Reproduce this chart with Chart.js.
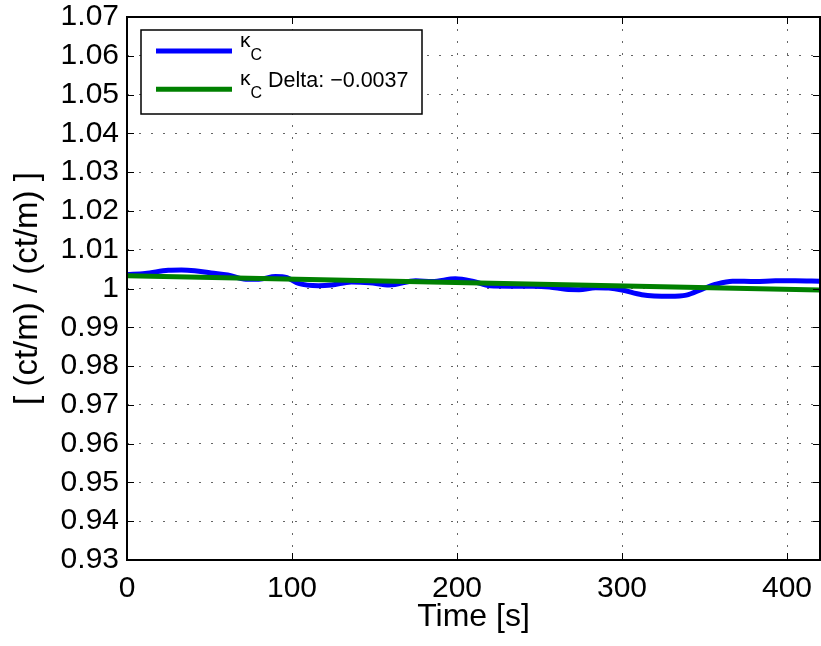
<!DOCTYPE html>
<html>
<head>
<meta charset="utf-8">
<script src="https://cdn.jsdelivr.net/npm/chart.js@4.4.1/dist/chart.umd.min.js"></script>
<style>
html,body{margin:0;padding:0;background:#fff;}
#wrap{width:821px;height:646px;}
</style>
</head>
<body>
<div id="wrap"><canvas id="kappaChart" width="821" height="646"></canvas></div>
<script>
const timeBlue = [0, 11, 25, 33, 41, 51, 61, 72, 80, 90, 97, 104, 116, 124, 136, 147, 159, 175, 185, 199,
    210, 220, 232, 246, 256, 266, 274, 284, 292, 300, 312, 329, 339, 349, 357, 367, 381, 393, 405, 420];
const kappaBlue = [1.0036, 1.0039, 1.0047, 1.0048, 1.0046, 1.0040, 1.0035, 1.0024, 1.0024, 1.0031, 1.0028, 1.0013,
    1.0007, 1.0009, 1.0017, 1.0015, 1.0009, 1.0020, 1.0018, 1.0025, 1.0018, 1.0007, 1.0006, 1.0006, 1.0004, 0.9998,
    0.9997, 1.0002, 1.0001, 0.9996, 0.9984, 0.9980, 0.9983, 0.9999, 1.0011, 1.0019, 1.0018, 1.0020, 1.0020, 1.0019];

// linear fit
const timeGreen = [0, 420];
const kappaGreen = [1.0033, 0.9996];

const xTicks = [0, 100, 200, 300, 400];
const yTicks = [0.93, 0.94, 0.95, 0.96, 0.97, 0.98, 0.99, 1.00, 1.01, 1.02, 1.03, 1.04, 1.05, 1.06, 1.07];
const yTickLabels = ['0.93', '0.94', '0.95', '0.96', '0.97', '0.98', '0.99', '1', '1.01', '1.02', '1.03', '1.04', '1.05', '1.06', '1.07'];

const legendMain = ['\u03BA', '\u03BA'];
const legendSub = ['C', 'C'];
const legendTail = ['', ' Delta: \u22120.0037'];

const fontFamily = '"Liberation Sans", Arial, Helvetica, sans-serif';

const toPoints = (xs, ys) => xs.map((x, i) => ({x: x, y: ys[i]}));

// box around the axes + inward tick marks (matlab look)
const boxPlugin = {
    id: 'matlabBox',
    afterDraw(chart) {
        const {ctx, chartArea: a, scales} = chart;
        ctx.save();
        ctx.strokeStyle = '#000';
        ctx.lineWidth = 1;
        const tl = 7;
        ctx.beginPath();
        xTicks.forEach(v => {
            const px = Math.round(scales.x.getPixelForValue(v)) + 0.5;
            ctx.moveTo(px, a.bottom); ctx.lineTo(px, a.bottom - tl);
            ctx.moveTo(px, a.top); ctx.lineTo(px, a.top + tl);
        });
        yTicks.forEach(v => {
            const py = Math.round(scales.y.getPixelForValue(v)) + 0.5;
            ctx.moveTo(a.left, py); ctx.lineTo(a.left + tl, py);
            ctx.moveTo(a.right, py); ctx.lineTo(a.right - tl, py);
        });
        ctx.stroke();
        ctx.lineWidth = 2;
        ctx.strokeRect(a.left, a.top, a.right - a.left, a.bottom - a.top);
        ctx.restore();
    }
};

// legend with subscripts
const legendPlugin = {
    id: 'matlabLegend',
    afterDatasetsDraw(chart) {
        const {ctx, chartArea: a} = chart;
        const bx = a.left + 14, by = a.top + 13, bw = 281, bh = 84;
        ctx.save();
        ctx.fillStyle = '#fff';
        ctx.fillRect(bx, by, bw, bh);
        ctx.strokeStyle = '#000';
        ctx.lineWidth = 1.5;
        ctx.strokeRect(bx, by, bw, bh);
        const ds = [chart.data.datasets[0], chart.data.datasets[1]];
        ds.forEach((d, i) => {
            const ly = by + 21 + i * 38.3;
            ctx.strokeStyle = d.borderColor;
            ctx.lineWidth = 5;
            ctx.beginPath();
            ctx.moveTo(bx + 15, ly);
            ctx.lineTo(bx + 91, ly);
            ctx.stroke();
            ctx.fillStyle = '#000';
            ctx.textBaseline = 'alphabetic';
            ctx.textAlign = 'left';
            let tx = bx + 99;
            ctx.font = '21px ' + fontFamily;
            ctx.fillText(legendMain[i], tx, ly - 4.5);
            tx += ctx.measureText(legendMain[i]).width;
            ctx.font = '16px ' + fontFamily;
            ctx.fillText(legendSub[i], tx, ly + 9);
            tx += ctx.measureText(legendSub[i]).width;
            ctx.font = '21.5px ' + fontFamily;
            ctx.fillText(legendTail[i], tx, ly - 2);
        });
        ctx.restore();
    }
};

const ctx = document.getElementById('kappaChart');
new Chart(ctx, {
    type: 'line',
    data: {
        datasets: [
            {
                label: 'kappa_C',
                data: toPoints(timeBlue, kappaBlue),
                borderColor: '#0000ff',
                borderWidth: 5,
                pointRadius: 0,
                fill: false,
                cubicInterpolationMode: 'monotone',
                order: 1
            },
            {
                label: 'kappa_C Delta: -0.0037',
                data: toPoints(timeGreen, kappaGreen),
                borderColor: '#008000',
                borderWidth: 5,
                pointRadius: 0,
                fill: false,
                tension: 0,
                order: 0
            }
        ]
    },
    options: {
        responsive: false,
        animation: false,
        layout: {
            padding: {top: 17, right: 1, bottom: 0, left: 0}
        },
        scales: {
            x: {
                type: 'linear',
                min: 0,
                max: 420,
                afterBuildTicks: s => { s.ticks = xTicks.map(v => ({value: v})); },
                afterFit: s => { s.height = 86; s.paddingLeft = 0; s.paddingRight = 0; },
                ticks: {
                    color: '#000',
                    padding: 11,
                    maxRotation: 0,
                    autoSkip: false,
                    font: {family: fontFamily, size: 30}
                },
                grid: {
                    color: '#666',
                    lineWidth: 1,
                    drawTicks: false
                },
                border: {display: false, dash: [2, 10]},
                title: {
                    display: true,
                    text: 'Time [s]',
                    color: '#000',
                    font: {family: fontFamily, size: 32},
                    padding: {top: 0, bottom: 10}
                }
            },
            y: {
                type: 'linear',
                min: 0.93,
                max: 1.07,
                afterBuildTicks: s => { s.ticks = yTicks.map(v => ({value: v})); },
                afterFit: s => { s.width = 127; s.paddingTop = 0; s.paddingBottom = 0; },
                ticks: {
                    color: '#000',
                    padding: 8,
                    autoSkip: false,
                    font: {family: fontFamily, size: 30},
                    callback: (value, index) => yTickLabels[index]
                },
                grid: {
                    color: '#666',
                    lineWidth: 1,
                    drawTicks: false
                },
                border: {display: false, dash: [2, 10]},
                title: {
                    display: true,
                    text: '[ (ct/m) / (ct/m) ]',
                    color: '#000',
                    font: {family: fontFamily, size: 33},
                    padding: {top: 8, bottom: 0}
                }
            }
        },
        plugins: {
            legend: {display: false},
            tooltip: {enabled: false}
        }
    },
    plugins: [boxPlugin, legendPlugin]
});
</script>
</body>
</html>
